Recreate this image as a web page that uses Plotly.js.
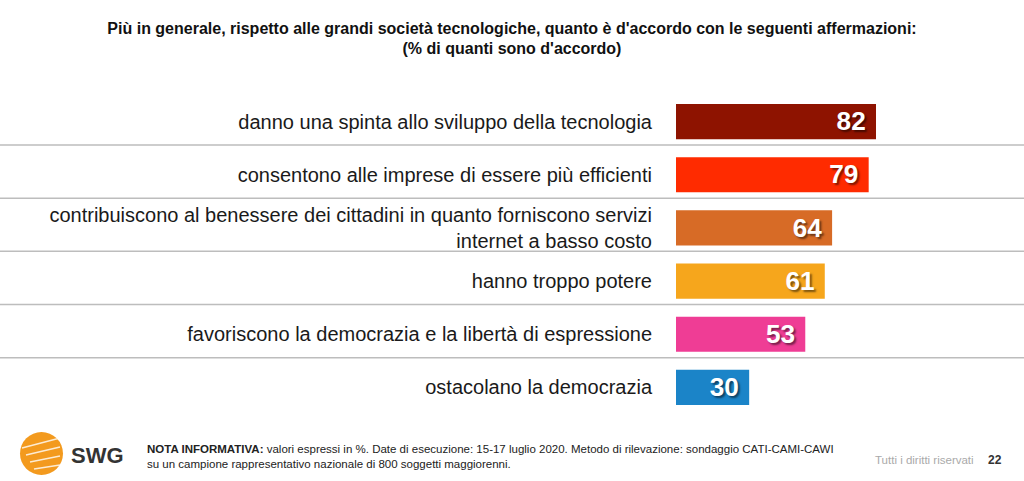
<!DOCTYPE html>
<html><head><meta charset="utf-8">
<script src="https://cdn.plot.ly/plotly-3.0.1.min.js"></script>
<style>html,body{margin:0;padding:0;background:#fff}#chart{width:1024px;height:481px}</style>
</head><body><div id="chart"></div>
<script>
const categories = [
  "danno una spinta allo sviluppo della tecnologia",
  "consentono alle imprese di essere più efficienti",
  "contribuiscono al benessere dei cittadini in quanto forniscono servizi<br>internet a basso costo",
  "hanno troppo potere",
  "favoriscono la democrazia e la libertà di espressione",
  "ostacolano la democrazia"
];
const values = [82, 79, 64, 61, 53, 30];
const barColors = ["#8E1300", "#FF2B00", "#D76B26", "#F6A61C", "#EF3D95", "#1B84C8"];

const ML = 676, W = 1024, MT = 95, MB = 67, H = 481;
const plotW = W - ML, plotH = H - MT - MB;
const pxPerUnit = 200 / 82;
const px = v => (v - ML) / plotW;          // pixel x -> paper
const py = v => (H - MB - v) / plotH;      // pixel y -> paper

const shapes = [];
for (let i = 0; i < categories.length - 1; i++) {
  shapes.push({type: 'line', xref: 'paper', yref: 'y', x0: -ML / plotW, x1: 1,
    y0: i + 0.44, y1: i + 0.44, line: {color: '#BDBDBD', width: 1.5}});
}
// logo
shapes.push({type: 'circle', xref: 'paper', yref: 'paper', x0: px(20), x1: px(63),
  y0: py(475), y1: py(432), fillcolor: '#F39A1E', line: {width: 0}});
for (let k = 0; k < 4; k++) {
  shapes.push({type: 'line', xref: 'paper', yref: 'paper', x0: px(22 + k * 4), x1: px(60),
    y0: py(448 + k * 7), y1: py(438 + k * 9), line: {color: 'rgba(255,255,255,0.8)', width: 1.5}});
}

const trace = {
  type: 'bar', orientation: 'h',
  y: categories, x: values,
  marker: {color: barColors, line: {width: 0}},
  text: values.map(v => v + '\u00a0'),
  textposition: 'inside', insidetextanchor: 'end',
  textfont: {family: 'Liberation Sans, Arial, sans-serif', size: 27, color: '#fff', weight: 'bold',
    shadow: '2px 2px 2px rgba(0,0,0,0.5)'},
  cliponaxis: false, hoverinfo: 'skip'
};

const layout = {
  width: W, height: H,
  margin: {l: ML, r: 0, t: MT, b: MB},
  paper_bgcolor: '#fff', plot_bgcolor: '#fff',
  bargap: 0.34,
  showlegend: false,
  title: {text: "Più in generale, rispetto alle grandi società tecnologiche, quanto è d'accordo con le seguenti affermazioni:<br>(% di quanti sono d'accordo)",
    x: 0.5, xref: 'container', xanchor: 'center', y: 0.93, yref: 'container', yanchor: 'top',
    font: {family: 'Liberation Sans Narrow, Arial Narrow, Liberation Sans, sans-serif', size: 16, color: '#111', weight: 'bold'}},
  xaxis: {range: [0, plotW / pxPerUnit], visible: false, fixedrange: true},
  yaxis: {autorange: false, range: [5.5, -0.5], showgrid: false, zeroline: false, showline: false,
    ticks: '', ticklabelstandoff: 23,
    tickfont: {family: 'Liberation Sans, Arial, sans-serif', size: 20, color: '#1a1a1a'}},
  shapes: shapes,
  annotations: [
    {xref: 'paper', yref: 'paper', x: px(69), y: py(455), xanchor: 'left', yanchor: 'middle',
     text: '<b>SWG</b>', showarrow: false, font: {family: 'Liberation Sans, Arial, sans-serif', size: 22, color: '#333'}},
    {xref: 'paper', yref: 'paper', x: px(145), y: py(456), xanchor: 'left', yanchor: 'middle', align: 'left',
     text: '<b>NOTA INFORMATIVA:</b> valori espressi in %. Date di esecuzione: 15-17 luglio 2020. Metodo di rilevazione: sondaggio CATI-CAMI-CAWI<br>su un campione rappresentativo nazionale di 800 soggetti maggiorenni.',
     showarrow: false, font: {family: 'Liberation Sans Narrow, Arial Narrow, Liberation Sans, sans-serif', size: 11.5, color: '#222'}},
    {xref: 'paper', yref: 'paper', x: px(873), y: py(460), xanchor: 'left', yanchor: 'middle',
     text: 'Tutti i diritti riservati', showarrow: false, font: {family: 'Liberation Sans Narrow, Liberation Sans, sans-serif', size: 11.5, color: '#aaa'}},
    {xref: 'paper', yref: 'paper', x: px(986), y: py(460), xanchor: 'left', yanchor: 'middle',
     text: '<b>22</b>', showarrow: false, font: {family: 'Liberation Sans, sans-serif', size: 12, color: '#333'}}
  ]
};

Plotly.newPlot('chart', [trace], layout, {displayModeBar: false, staticPlot: true});
</script></body></html>
